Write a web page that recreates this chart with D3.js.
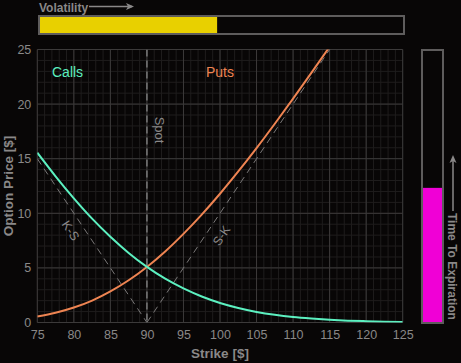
<!DOCTYPE html>
<html><head><meta charset="utf-8">
<script src="https://cdn.jsdelivr.net/npm/d3@7"></script>
<style>
html,body{margin:0;padding:0;background:#080606;}
svg{display:block;font-family:"Liberation Sans",Arial,sans-serif;}
</style></head>
<body><svg id="c" width="461" height="363"></svg>
<script>
const strikes = [75,77.5,80,82.5,85,87.5,90,92.5,95,97.5,100,102.5,105,107.5,110,112.5,115,117.5,120,122.5,125];
const calls = [15.55,13.39,11.37,9.51,7.85,6.37,5.09,4.01,3.12,2.38,1.79,1.33,0.97,0.70,0.50,0.36,0.25,0.17,0.12,0.08,0.05];
const puts = [0.55,0.89,1.37,2.01,2.85,3.87,5.09,6.51,8.12,9.88,11.79,13.83,15.97,18.20,20.50,22.86,25.25,27.67,30.12,32.58,35.05];
const intrinsicStrikes = [75,90,125];
const intrinsicCall = [15,0,0];
const intrinsicPut = [0,0,35];
const spot = 90;
const xTicks = [75,80,85,90,95,100,105,110,115,120,125];
const yTicks = [0,5,10,15,20,25];
const volatility = [0.488];
const timeToExpiration = [0.495];

const svg = d3.select("#c");
const W=461,H=363;
const L=37.3,R=402.7,T=49.5,B=322.5;
const x = d3.scaleLinear().domain([75,125]).range([L,R]);
const y = d3.scaleLinear().domain([0,25]).range([B,T]);

svg.append("rect").attr("width",W).attr("height",H).attr("fill","#080606");

svg.append("defs").append("clipPath").attr("id","clip")
  .append("rect").attr("x",L).attr("y",T).attr("width",R-L).attr("height",B-T);

// minor grid
const g = svg.append("g");
g.selectAll(".mx").data(d3.range(75,126,1)).join("line")
  .attr("x1",d=>x(d)).attr("x2",d=>x(d)).attr("y1",T).attr("y2",B)
  .attr("stroke","#1f1d1d").attr("stroke-width",1);
g.selectAll(".my").data(d3.range(0,26,1)).join("line")
  .attr("y1",d=>y(d)).attr("y2",d=>y(d)).attr("x1",L).attr("x2",R)
  .attr("stroke","#1f1d1d").attr("stroke-width",1);
// major grid
g.selectAll(".Mx").data(xTicks).join("line")
  .attr("x1",d=>x(d)).attr("x2",d=>x(d)).attr("y1",T).attr("y2",B)
  .attr("stroke","#3c3a3a").attr("stroke-width",1);
g.selectAll(".My").data(yTicks).join("line")
  .attr("y1",d=>y(d)).attr("y2",d=>y(d)).attr("x1",L).attr("x2",R)
  .attr("stroke","#3c3a3a").attr("stroke-width",1);

// axes (labels only)
const xAxis = d3.axisBottom(x).tickValues(xTicks).tickSize(0).tickPadding(8);
const yAxis = d3.axisLeft(y).tickValues(yTicks).tickSize(0).tickPadding(6);
const gx = svg.append("g").attr("transform",`translate(0,${B})`).call(xAxis);
const gy = svg.append("g").attr("transform",`translate(${L},0)`).call(yAxis);
[gx,gy].forEach(a=>{
  a.select(".domain").remove();
  a.selectAll("text").attr("fill","#8a8888").attr("font-size",12.5)
   .attr("font-family","'Liberation Sans',Arial,sans-serif");
});

// axis titles
svg.append("text").attr("x",(L+R)/2).attr("y",358).attr("text-anchor","middle")
  .attr("fill","#8a8888").attr("font-weight","bold").attr("font-size",13.5).text("Strike [$]");
svg.append("text").attr("transform",`translate(13,${(T+B)/2}) rotate(-90)`).attr("text-anchor","middle")
  .attr("fill","#8a8888").attr("font-weight","bold").attr("font-size",13.5).text("Option Price [$]");

const plot = svg.append("g").attr("clip-path","url(#clip)");

// spot line
plot.append("line").attr("x1",x(spot)).attr("x2",x(spot)).attr("y1",T).attr("y2",B)
  .attr("stroke","#777").attr("stroke-width",1.5).attr("stroke-dasharray","7,4");

// intrinsic dashed lines
const lineI = d3.line().x(d=>x(d[0])).y(d=>y(d[1]));
plot.append("path").attr("d",lineI(intrinsicStrikes.slice(0,2).map((k,i)=>[k,intrinsicCall[i]])))
  .attr("fill","none").attr("stroke","#7a7878").attr("stroke-width",1).attr("stroke-dasharray","7,5");
plot.append("path").attr("d",lineI(intrinsicStrikes.slice(1).map((k,i)=>[k,intrinsicPut[i+1]])))
  .attr("fill","none").attr("stroke","#7a7878").attr("stroke-width",1).attr("stroke-dasharray","7,5");

// curves
const line = d3.line().x(d=>x(d[0])).y(d=>y(d[1])).curve(d3.curveMonotoneX);
plot.append("path").attr("d",line(strikes.map((k,i)=>[k,puts[i]])))
  .attr("fill","none").attr("stroke","#ee8452").attr("stroke-width",2);
plot.append("path").attr("d",line(strikes.map((k,i)=>[k,calls[i]])))
  .attr("fill","none").attr("stroke","#5cf0c0").attr("stroke-width",2);

// labels
svg.append("text").attr("x",52).attr("y",77).attr("fill","#5cf0c0").attr("font-size",14).text("Calls");
svg.append("text").attr("x",206).attr("y",77).attr("fill","#ee8452").attr("font-size",14).text("Puts");
svg.append("text").attr("transform",`translate(155,130) rotate(90)`).attr("text-anchor","middle")
  .attr("fill","#8a8888").attr("font-size",13).text("Spot");
const aKS = Math.atan2(y(0)-y(15), x(90)-x(75))*180/Math.PI;
svg.append("text").attr("transform",`translate(67,233) rotate(${aKS})`).attr("text-anchor","middle")
  .attr("fill","#8a8888").attr("font-size",12.5).text("K-S");
const aSK = Math.atan2(y(25)-y(0), x(115)-x(90))*180/Math.PI;
svg.append("text").attr("transform",`translate(225,238) rotate(${aSK})`).attr("text-anchor","middle")
  .attr("fill","#8a8888").attr("font-size",12.5).text("S-K");

// volatility bar
const vx = d3.scaleLinear().domain([0,1]).range([39,404]);
svg.append("rect").attr("x",vx(0)).attr("y",16).attr("width",vx(volatility[0])-vx(0)).attr("height",18).attr("fill","#e8d000");
svg.append("rect").attr("x",vx(0)).attr("y",16).attr("width",vx(1)-vx(0)).attr("height",18)
  .attr("fill","none").attr("stroke","#5e5c5c").attr("stroke-width",2);
svg.append("text").attr("x",39).attr("y",12).attr("fill","#8a8888").attr("font-size",12).attr("font-weight","bold").text("Volatility");
svg.append("line").attr("x1",89).attr("x2",132).attr("y1",6.5).attr("y2",6.5).attr("stroke","#8a8888").attr("stroke-width",1.5);
svg.append("path").attr("d","M134,6.5 L126,3 L128,6.5 L126,10 Z").attr("fill","#8a8888");

// time to expiration bar
const ty = d3.scaleLinear().domain([0,1]).range([323,50]);
svg.append("rect").attr("x",422).attr("y",ty(timeToExpiration[0])).attr("width",21).attr("height",ty(0)-ty(timeToExpiration[0])).attr("fill","#f000d6");
svg.append("rect").attr("x",422).attr("y",ty(1)).attr("width",21).attr("height",ty(0)-ty(1))
  .attr("fill","none").attr("stroke","#5e5c5c").attr("stroke-width",2);
svg.append("text").attr("transform",`translate(448,213) rotate(90)`).attr("fill","#8a8888")
  .attr("font-size",12).attr("font-weight","bold").text("Time To Expiration");
svg.append("line").attr("x1",453).attr("x2",453).attr("y1",211).attr("y2",158).attr("stroke","#8a8888").attr("stroke-width",1.5);
svg.append("path").attr("d","M453,155 L449.5,163 L453,161 L456.5,163 Z").attr("fill","#8a8888");
</script></body></html>
